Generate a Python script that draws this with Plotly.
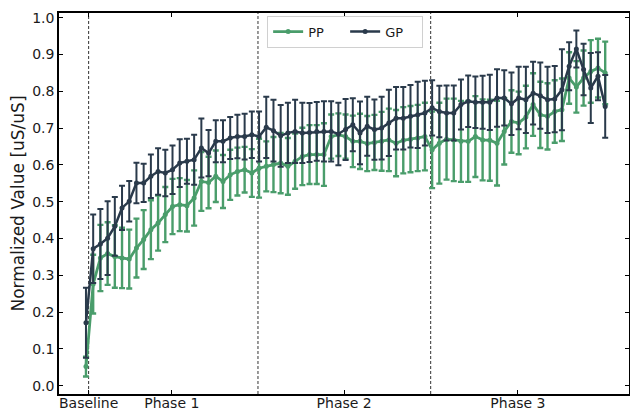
import plotly.graph_objects as go

# ---- data ----
idx = list(range(73))

pp_mean = [0.052, 0.276, 0.347, 0.359, 0.351, 0.347, 0.344, 0.374, 0.397, 0.424,
           0.442, 0.465, 0.487, 0.492, 0.489, 0.510, 0.555, 0.552, 0.569, 0.555,
           0.573, 0.582, 0.587, 0.578, 0.591, 0.596, 0.601, 0.605, 0.596, 0.610,
           0.623, 0.628, 0.628, 0.628, 0.677, 0.682, 0.677, 0.664, 0.664, 0.658,
           0.661, 0.664, 0.668, 0.659, 0.667, 0.670, 0.673, 0.677, 0.641, 0.659,
           0.670, 0.668, 0.664, 0.664, 0.677, 0.668, 0.667, 0.659, 0.691, 0.718,
           0.714, 0.730, 0.764, 0.736, 0.732, 0.745, 0.750, 0.836, 0.812, 0.836,
           0.854, 0.863, 0.850]
pp_err = [0.027, 0.080, 0.090, 0.085, 0.085, 0.082, 0.080, 0.080, 0.080, 0.080,
          0.075, 0.075, 0.075, 0.072, 0.070, 0.075, 0.080, 0.070, 0.070, 0.072,
          0.068, 0.065, 0.062, 0.065, 0.080, 0.068, 0.075, 0.082, 0.077, 0.075,
          0.078, 0.080, 0.080, 0.085, 0.060, 0.058, 0.060, 0.070, 0.075, 0.075,
          0.075, 0.080, 0.085, 0.090, 0.090, 0.090, 0.090, 0.092, 0.104, 0.110,
          0.110, 0.112, 0.110, 0.110, 0.110, 0.110, 0.110, 0.115, 0.090, 0.085,
          0.085, 0.085, 0.085, 0.090, 0.090, 0.085, 0.085, 0.070, 0.070, 0.075,
          0.085, 0.080, 0.085]

gp_mean = [0.171, 0.372, 0.385, 0.401, 0.433, 0.483, 0.501, 0.551, 0.551, 0.569,
           0.582, 0.578, 0.587, 0.605, 0.610, 0.614, 0.646, 0.632, 0.664, 0.664,
           0.673, 0.677, 0.677, 0.682, 0.677, 0.702, 0.693, 0.679, 0.687, 0.691,
           0.687, 0.688, 0.691, 0.691, 0.691, 0.684, 0.696, 0.709, 0.687, 0.705,
           0.696, 0.700, 0.714, 0.727, 0.727, 0.732, 0.736, 0.741, 0.755, 0.745,
           0.741, 0.741, 0.764, 0.773, 0.770, 0.770, 0.770, 0.782, 0.782, 0.766,
           0.782, 0.777, 0.795, 0.788, 0.777, 0.779, 0.804, 0.868, 0.915, 0.859,
           0.809, 0.841, 0.759]
gp_err = [0.095, 0.093, 0.095, 0.100, 0.080, 0.060, 0.055, 0.055, 0.052, 0.059,
          0.063, 0.063, 0.066, 0.065, 0.061, 0.068, 0.080, 0.063, 0.057, 0.057,
          0.057, 0.059, 0.062, 0.063, 0.068, 0.083, 0.084, 0.084, 0.082, 0.086,
          0.082, 0.080, 0.080, 0.082, 0.082, 0.085, 0.083, 0.072, 0.085, 0.080,
          0.082, 0.085, 0.090, 0.085, 0.085, 0.085, 0.090, 0.088, 0.075, 0.070,
          0.075, 0.075, 0.068, 0.070, 0.070, 0.072, 0.075, 0.078, 0.075, 0.085,
          0.085, 0.090, 0.085, 0.090, 0.090, 0.090, 0.110, 0.065, 0.050, 0.070,
          0.095, 0.065, 0.085]

phase_bounds = [0.37, 23.85, 47.8]
tick_pos = [0.37, 11.9, 35.8, 59.9]
tick_labels = ["Baseline", "Phase 1", "Phase 2", "Phase 3"]
y_ticks = [round(i * 0.1, 1) for i in range(11)]

PP_COLOR = "#4a9d6b"
GP_COLOR = "#2a3a4b"
FONT = "DejaVu Sans"

fig = go.Figure()
fig.add_trace(go.Scatter(
    x=idx, y=pp_mean, name="PP", mode="lines+markers",
    line=dict(color=PP_COLOR, width=2.8),
    marker=dict(color=PP_COLOR, size=5),
    error_y=dict(type="data", array=pp_err, color=PP_COLOR, thickness=2.4, width=3),
))
fig.add_trace(go.Scatter(
    x=idx, y=gp_mean, name="GP", mode="lines+markers",
    line=dict(color=GP_COLOR, width=2.5),
    marker=dict(color=GP_COLOR, size=5),
    error_y=dict(type="data", array=gp_err, color=GP_COLOR, thickness=2, width=3),
))

for b in phase_bounds:
    fig.add_shape(type="line", xref="x", yref="paper", x0=b, x1=b, y0=0, y1=1,
                  line=dict(color="#333333", width=1, dash="3px,2px"), layer="below")

fig.update_layout(
    width=630, height=411,
    margin=dict(l=59, r=1, t=13, b=17, autoexpand=False),
    paper_bgcolor="white", plot_bgcolor="white",
    font=dict(family=FONT, size=14, color="#1a1a1a"),
    showlegend=True,
    legend=dict(orientation="h", x=0.502, xanchor="center", y=0.993, yanchor="top",
                bgcolor="rgba(255,255,255,0.8)", bordercolor="#d0d0d0", borderwidth=1,
                entrywidth=32, font=dict(size=13)),
    xaxis=dict(range=[-3.74, 75.3], tickmode="array", tickvals=tick_pos, ticktext=tick_labels,
               automargin=False, ticklabelstandoff=-5,
               showgrid=False, zeroline=False, showline=True, linecolor="black", linewidth=1.5,
               mirror="allticks", ticks="inside", ticklen=4, tickcolor="black"),
    yaxis=dict(range=[-0.0226, 1.0128], tickmode="array",
               tickvals=y_ticks, ticktext=[f"{v:.1f}" for v in y_ticks],
               automargin=True,
               showgrid=False, zeroline=False, showline=True, linecolor="black", linewidth=1.5,
               mirror="allticks", ticks="inside", ticklen=4, tickcolor="black",
               title=dict(text="Normalized Value [uS/uS]", font=dict(size=17), standoff=3)),
)

fig.write_html("out.html", config={"displayModeBar": False},
               post_script="document.body.style.margin='0px';document.body.style.overflow='hidden';")
